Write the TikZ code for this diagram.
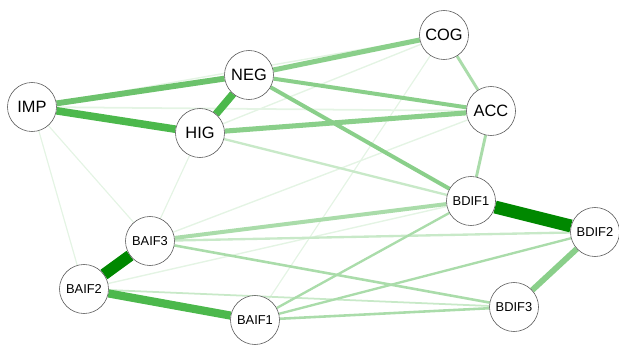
\documentclass[tikz,border=0pt]{standalone}
\usepackage{fontspec}
\setmainfont{Liberation Sans}
\usepackage{tikz}
\usetikzlibrary{backgrounds}

\definecolor{wdark}{RGB}{0,136,0}
\definecolor{wstrong}{RGB}{76,184,76}
\definecolor{wmid}{RGB}{108,194,108}
\definecolor{wsoft}{RGB}{138,207,138}
\definecolor{wlight}{RGB}{170,220,170}
\definecolor{wpale}{RGB}{200,233,200}
\definecolor{wfaint}{RGB}{228,244,228}

\begin{document}
\begin{tikzpicture}[x=0.03cm, y=-0.03cm,
	var/.style={circle, draw=black!65, fill=white, line width=0.5pt, minimum size=1.47cm, inner sep=0pt, font=\fontsize{14}{16}\selectfont},
	item/.style={var, font=\fontsize{11}{13}\selectfont},
	tie/.style 2 args={draw=#1, line width=#2pt}]
			\useasboundingbox (0,0) rectangle (619,345);
			% scales
			\node[var] (imp) at (32,107) {IMP};
			\node[var] (neg) at (249,75) {NEG};
			\node[var] (hig) at (200,133) {HIG};
			\node[var] (cog) at (444,35) {COG};
			\node[var] (acc) at (491,111) {ACC};
			% items
			\node[item] (bdif1) at (471,201) {BDIF1};
			\node[item] (bdif2) at (595,232) {BDIF2};
			\node[item] (bdif3) at (514,307) {BDIF3};
			\node[item] (baif1) at (255,320) {BAIF1};
			\node[item] (baif2) at (84,289) {BAIF2};
			\node[item] (baif3) at (150,241) {BAIF3};
			\begin{scope}[on background layer]
				% faint ties
				\draw[tie={wfaint}{1}] (imp) -- (baif2);
				\draw[tie={wfaint}{1}] (imp) -- (baif3);
				\draw[tie={wfaint}{1}] (hig) -- (baif3);
				\draw[tie={wfaint}{1}] (cog) -- (baif1);
				\draw[tie={wfaint}{1.2}] (hig) -- (cog);
				\draw[tie={wfaint}{1.2}] (imp) -- (cog);
				\draw[tie={wfaint}{1.5}] (imp) -- (acc);
				\draw[tie={wfaint}{1.2}] (baif3) -- (acc);
				\draw[tie={wfaint}{1.2}] (baif2) -- (bdif1);
				\draw[tie={wpale}{1.5}] (baif2) -- (bdif3);
				% light ties
				\draw[tie={wpale}{2}] (hig) -- (bdif1);
				\draw[tie={wpale}{2}] (baif3) -- (bdif2);
				\draw[tie={wlight}{2.2}] (baif3) -- (bdif3);
				\draw[tie={wlight}{2}] (baif1) -- (bdif1);
				\draw[tie={wlight}{2}] (baif1) -- (bdif2);
				\draw[tie={wlight}{2.2}] (baif1) -- (bdif3);
				\draw[tie={wlight}{2.5}] (cog) -- (acc);
				\draw[tie={wlight}{2.5}] (acc) -- (bdif1);
				\draw[tie={wlight}{3.4}] (baif3) -- (bdif1);
				% medium ties
				\draw[tie={wsoft}{3.4}] (neg) -- (bdif1);
				\draw[tie={wsoft}{3.4}] (neg) -- (acc);
				\draw[tie={wsoft}{4.3}] (neg) -- (cog);
				\draw[tie={wsoft}{4.3}] (hig) -- (acc);
				\draw[tie={wsoft}{5}] (bdif2) -- (bdif3);
				\draw[tie={wmid}{5}] (imp) -- (neg);
				% strong ties
				\draw[tie={wstrong}{6.5}] (imp) -- (hig);
				\draw[tie={wstrong}{6.5}] (neg) -- (hig);
				\draw[tie={wstrong}{7}] (baif2) -- (baif1);
				\draw[tie={wdark}{10}] (baif2) -- (baif3);
				\draw[tie={wdark}{11}] (bdif1) -- (bdif2);
			\end{scope}
		\end{tikzpicture}
\end{document}
